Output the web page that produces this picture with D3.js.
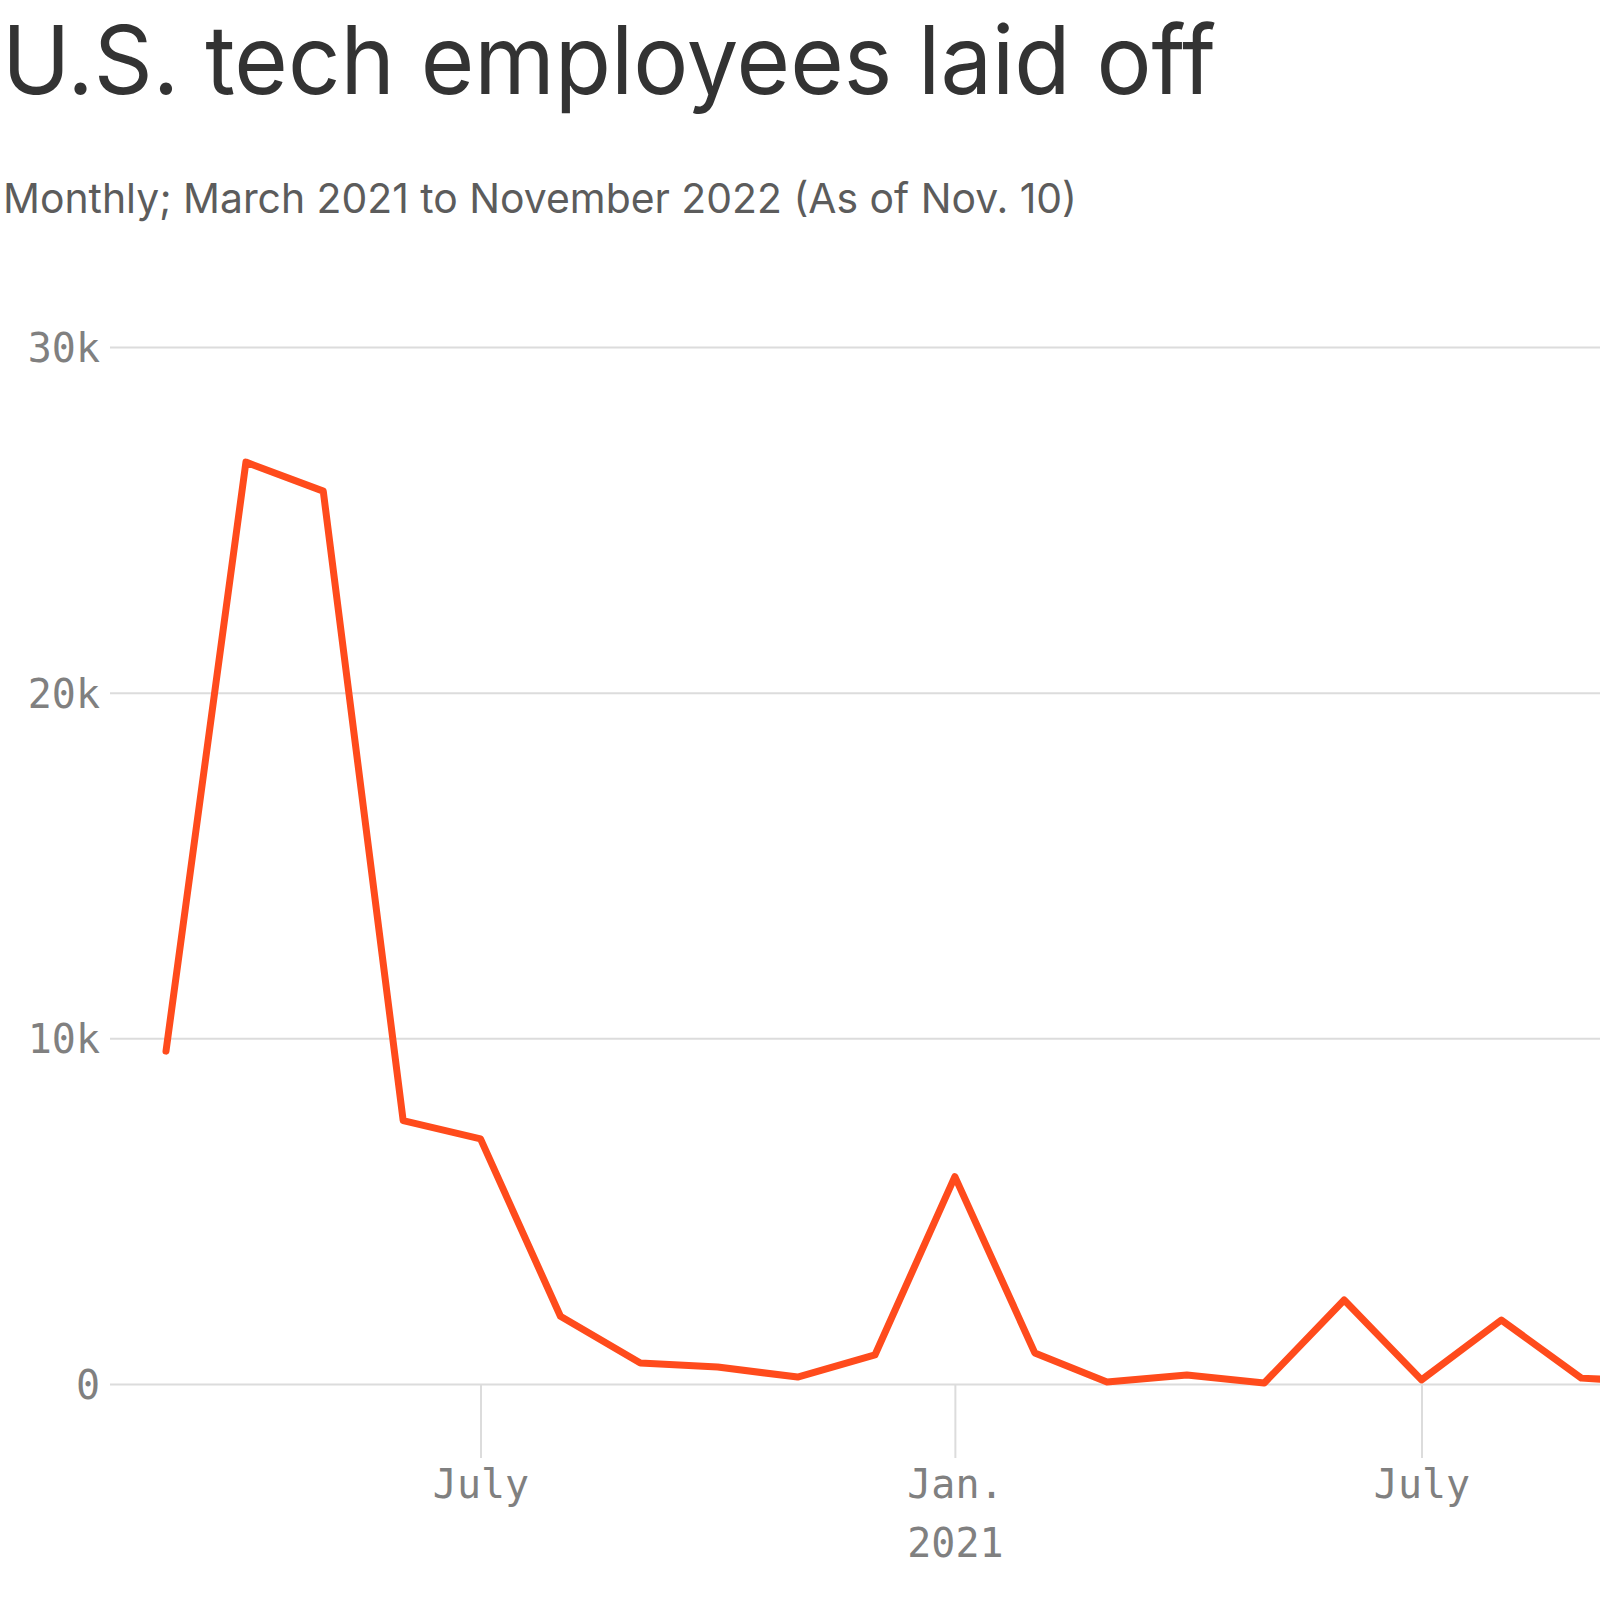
<!DOCTYPE html>
<html>
<head>
<meta charset="utf-8">
<style>
    body { margin: 0; background: #fff; }
    svg { display: block; }
    .title { font-family: Inter, "Noto Sans", sans-serif; fill: #333; }
    .sub { font-family: Inter, "Noto Sans", sans-serif; fill: #5c5c5c; }
    .axis text { font-family: "DejaVu Sans Mono", "Liberation Mono", monospace; fill: #808080; font-size: 40px; }
    .axis line { stroke: #dcdcdc; stroke-width: 2; }
    .axis .domain { display: none; }
</style>
</head>
<body>
<script src="https://d3js.org/d3.v7.min.js"></script>
<script>
    const width = 1600;
    const height = 1600;

    // monthly layoffs, first of month
    const months = ["2020-03", "2020-04", "2020-05", "2020-06", "2020-07", "2020-08",
        "2020-09", "2020-10", "2020-11", "2020-12", "2021-01", "2021-02", "2021-03",
        "2021-04", "2021-05", "2021-06", "2021-07", "2021-08", "2021-09", "2021-10"];
    const laidOff = [9630, 26670, 25830, 7620, 7090, 1960,
        610, 490, 200, 840, 6000, 900, 60,
        260, 30, 2430, 120, 1850, 170, 50];

    const yTicks = [0, 10000, 20000, 30000];
    const yTickLabels = ["0", "10k", "20k", "30k"];
    const xTicks = ["2020-07", "2021-01", "2021-07"];
    const xTickLabels = ["July", "Jan.", "July"];
    const xTickYears = ["", "2021", ""];

    const parse = d3.timeParse("%Y-%m");
    const data = months.map((m, i) => ({ date: parse(m), value: laidOff[i] }));

    const svg = d3.select("body").append("svg")
        .attr("width", width)
        .attr("height", height);

    svg.append("text").attr("class", "title")
        .attr("x", 2).attr("y", 94)
        .attr("font-size", 95)
        .attr("textLength", 1214)
        .attr("lengthAdjust", "spacingAndGlyphs")
        .text("U.S. tech employees laid off");

    svg.append("text").attr("class", "sub")
        .attr("x", 3).attr("y", 213)
        .attr("font-size", 41)
        .attr("textLength", 1074)
        .attr("lengthAdjust", "spacingAndGlyphs")
        .text("Monthly; March 2021 to November 2022 (As of Nov. 10)");

    const x = d3.scaleTime()
        .domain([parse("2020-03"), parse("2021-07")])
        .range([166, 1421.5]);

    const y = d3.scaleLinear()
        .domain([0, 30000])
        .range([1384, 347]);

    // y grid
    const gy = svg.append("g").attr("class", "axis")
        .attr("transform", "translate(110,0)")
        .call(d3.axisLeft(y)
            .tickValues(yTicks)
            .tickSize(-(width - 110))
            .tickPadding(10)
            .tickFormat((d, i) => yTickLabels[i]));
    gy.selectAll("text").attr("dy", "0.36em");

    // x ticks
    const gx = svg.append("g").attr("class", "axis")
        .attr("transform", `translate(0,${y(0)})`)
        .call(d3.axisBottom(x)
            .tickValues(xTicks.map(parse))
            .tickSize(74)
            .tickFormat((d, i) => xTickLabels[i]));
    gx.selectAll(".tick text")
        .attr("y", 114).attr("dy", null)
        .each(function(d, i) {
            if (!xTickYears[i]) return;
            d3.select(this).append("tspan")
                .attr("x", 0).attr("y", 173)
                .text(xTickYears[i]);
        });

    const line = d3.line()
        .x(d => x(d.date))
        .y(d => y(d.value));

    svg.append("path")
        .datum(data)
        .attr("fill", "none")
        .attr("stroke", "#ff4b1c")
        .attr("stroke-width", 7)
        .attr("stroke-linejoin", "round")
        .attr("stroke-linecap", "round")
        .attr("d", line);
</script>
</body>
</html>
